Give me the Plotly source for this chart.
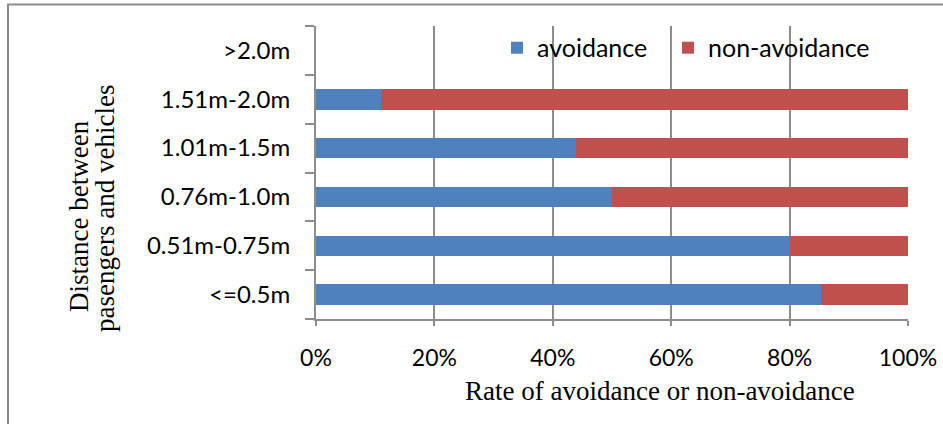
import html
import plotly.graph_objects as go

# ---- data ----
categories = ["<=0.5m", "0.51m-0.75m", "0.76m-1.0m", "1.01m-1.5m", "1.51m-2.0m", ">2.0m"]
avoidance = [85.3, 80.0, 50.0, 44.0, 11.0, None]
non_avoidance = [14.7, 20.0, 50.0, 56.0, 89.0, None]
x_ticks = [0, 20, 40, 60, 80, 100]
x_tick_labels = ["0%", "20%", "40%", "60%", "80%", "100%"]
series_names = ["avoidance", "non-avoidance"]
x_title = "Rate of avoidance or non-avoidance"
y_title_lines = ["Distance between", "pasengers and vehicles"]

BLUE = "#4F81BD"
RED = "#C0504D"
GRID = "#8C8C8C"
SANS = "Lato, 'Liberation Sans', Arial, sans-serif"
SERIF = "'Liberation Serif', 'Times New Roman', serif"

fig = go.Figure()
fig.add_trace(go.Bar(y=categories, x=avoidance, orientation="h", name=series_names[0],
                     marker=dict(color=BLUE, line=dict(width=0)), legend="legend"))
fig.add_trace(go.Bar(y=categories, x=non_avoidance, orientation="h", name=series_names[1],
                     marker=dict(color=RED, line=dict(width=0)), legend="legend2"))

legend_common = dict(orientation="h", xanchor="left", yanchor="middle", y=0.925,
                     bgcolor="rgba(0,0,0,0)", font=dict(family=SANS, size=25), itemwidth=30)

fig.update_layout(
    width=943, height=424,
    margin=dict(l=316, r=35, t=26, b=105, autoexpand=False),
    barmode="stack", bargap=0.58,
    plot_bgcolor="white", paper_bgcolor="white",
    font=dict(family=SANS, size=23, color="#000000"),
    legend=dict(x=(497 - 316) / 592, **legend_common),
    legend2=dict(x=(668 - 316) / 592, **legend_common),
    showlegend=True,
)
fig.update_xaxes(range=[0, 100], tickvals=x_ticks, ticktext=x_tick_labels,
                 automargin=False,
                 showgrid=True, gridcolor=GRID, gridwidth=2,
                 showline=True, linecolor=GRID, linewidth=2,
                 ticks="outside", ticklen=5, tickcolor=GRID, tickwidth=2,
                 ticklabelstandoff=12, zeroline=False,
                 tickfont=dict(family=SANS, size=23))
fig.update_yaxes(type="category", categoryorder="array", categoryarray=categories,
                 range=[-0.5, 5.5], automargin=False,
                 tickvals=categories, ticktext=[html.escape(c) for c in categories],
                 tickson="boundaries", ticks="outside", ticklen=9, tickcolor=GRID, tickwidth=2,
                 showline=True, linecolor=GRID, linewidth=2, showgrid=False,
                 ticklabelstandoff=19, tickfont=dict(family=SANS, size=24))

for line, px, py in zip(y_title_lines, [79, 105], [216, 209]):
    fig.add_annotation(text=line, xref="paper", yref="paper",
                       x=(px - 316) / 592, y=(319 - py) / 293, xanchor="center", yanchor="middle",
                       textangle=-90, showarrow=False,
                       font=dict(family=SERIF, size=27, color="#000000"))
fig.add_annotation(text=x_title, xref="paper", yref="paper",
                   x=(660 - 316) / 592, y=(319 - 391) / 293, xanchor="center", yanchor="middle",
                   showarrow=False, font=dict(family=SERIF, size=27, color="#000000"))

# outer chart border (extends past right/bottom edge as in the reference)
fig.add_shape(type="rect", xref="paper", yref="paper",
              x0=(8 - 316) / 592, y0=-0.6, x1=1.2, y1=(319 - 4.5) / 293,
              line=dict(color="#8C8C8C", width=2), fillcolor="rgba(0,0,0,0)", layer="below")

fig.write_html("out.html")
